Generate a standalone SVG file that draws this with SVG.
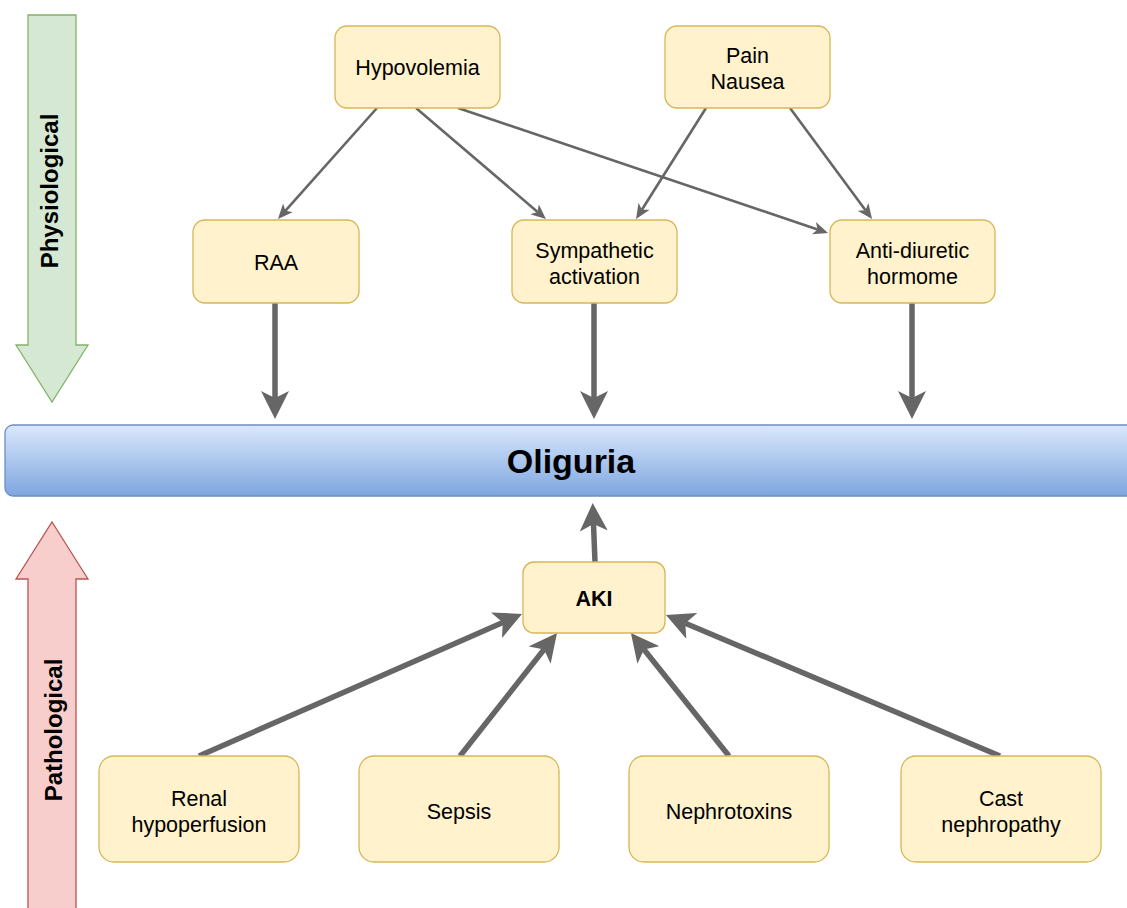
<svg xmlns="http://www.w3.org/2000/svg" width="1127" height="908" viewBox="0 0 1127 908">
  <style>
    .node rect { fill: #fff2cc; stroke: #d6b656; stroke-width: 1.3; }
    .node text { font-family: "Liberation Sans", Arial, sans-serif; font-size: 21.5px; fill: #000; text-anchor: middle; }
    .bold { font-weight: bold; }
    .thin { fill: none; stroke: #666666; stroke-width: 2.6; }
    .thick { fill: none; stroke: #666666; stroke-width: 5.5; }
    .side { font-family: "Liberation Sans", Arial, sans-serif; font-size: 24px; font-weight: bold; fill: #000; text-anchor: middle; }
  </style>
  <defs>
    <linearGradient id="blueGrad" x1="0" y1="0" x2="0" y2="1">
      <stop offset="0" stop-color="#dae8fc"/>
      <stop offset="1" stop-color="#7ea6e0"/>
    </linearGradient>
    <marker id="headThin" markerUnits="userSpaceOnUse" markerWidth="15" markerHeight="13" refX="4" refY="6.5" orient="auto" viewBox="0 0 15 13">
      <path d="M0,0 L15,6.5 L0,13 L4,6.5 Z" fill="#666666"/>
    </marker>
    <marker id="headThick" markerUnits="userSpaceOnUse" markerWidth="28" markerHeight="28" refX="7" refY="14" orient="auto" viewBox="0 0 28 28">
      <path d="M0,0 L28,14 L0,28 L7,14 Z" fill="#666666"/>
    </marker>
  </defs>

  <g id="physiological-arrow">
    <polygon points="28,15 76,15 76,345 88,345 52,402 16,345 28,345" fill="#d5e8d4" stroke="#82b366" stroke-width="1.3"/>
    <text class="side" transform="translate(58,191) rotate(-90)">Physiological</text>
  </g>
  <g id="pathological-arrow">
    <polygon points="52,522 88,579 76,579 76,915 28,915 28,579 16,579" fill="#f8cecc" stroke="#b85450" stroke-width="1.3"/>
    <text class="side" transform="translate(62,730) rotate(-90)">Pathological</text>
  </g>

  <g id="oliguria">
    <rect x="5" y="425" width="1140" height="71" rx="8" fill="url(#blueGrad)" stroke="#6c8ebf" stroke-width="1.3"/>
    <text x="571" y="473" font-family="Liberation Sans, Arial, sans-serif" font-size="34" font-weight="bold" text-anchor="middle" fill="#000">Oliguria</text>
  </g>

  <g id="connectors">
    <path class="thin" d="M377,108 L285.3,210.8" marker-end="url(#headThin)"/>
    <path class="thin" d="M416,108 L537.6,211.9" marker-end="url(#headThin)"/>
    <path class="thin" d="M458,108 L817.6,229.5" marker-end="url(#headThin)"/>
    <path class="thin" d="M706,108 L641.9,209.7" marker-end="url(#headThin)"/>
    <path class="thin" d="M790,108 L865.5,210.2" marker-end="url(#headThin)"/>
    <path class="thick" d="M275,303 L275,398" marker-end="url(#headThick)"/>
    <path class="thick" d="M594,303 L594,398" marker-end="url(#headThick)"/>
    <path class="thick" d="M912,303 L912,398" marker-end="url(#headThick)"/>
    <path class="thick" d="M595,562 L593.5,524" marker-end="url(#headThick)"/>
    <path class="thick" d="M199,756 L502.8,622.4" marker-end="url(#headThick)"/>
    <path class="thick" d="M460,756 L544,649.5" marker-end="url(#headThick)"/>
    <path class="thick" d="M729,756 L644,649.5" marker-end="url(#headThick)"/>
    <path class="thick" d="M1000,756 L685.3,623.2" marker-end="url(#headThick)"/>
  </g>

  <g id="hypovolemia" class="node">
    <rect x="335" y="26" width="165" height="82" rx="12"/>
    <text x="417.5" y="75">Hypovolemia</text>
  </g>
  <g id="pain-nausea" class="node">
    <rect x="665" y="26" width="165" height="82" rx="12"/>
    <text x="747.5" y="63">Pain</text>
    <text x="747.5" y="89">Nausea</text>
  </g>
  <g id="raa" class="node">
    <rect x="193" y="220" width="166" height="83" rx="12"/>
    <text x="276" y="270">RAA</text>
  </g>
  <g id="sympathetic" class="node">
    <rect x="512" y="220" width="165" height="83" rx="12"/>
    <text x="594.5" y="258">Sympathetic</text>
    <text x="594.5" y="284">activation</text>
  </g>
  <g id="adh" class="node">
    <rect x="830" y="220" width="165" height="83" rx="12"/>
    <text x="912.5" y="258">Anti-diuretic</text>
    <text x="912.5" y="284">hormome</text>
  </g>
  <g id="aki" class="node">
    <rect x="523" y="562" width="142" height="71" rx="11"/>
    <text class="bold" x="594" y="606">AKI</text>
  </g>
  <g id="renal" class="node">
    <rect x="99" y="756" width="200" height="106" rx="15"/>
    <text x="199" y="806">Renal</text>
    <text x="199" y="832">hypoperfusion</text>
  </g>
  <g id="sepsis" class="node">
    <rect x="359" y="756" width="200" height="106" rx="15"/>
    <text x="459" y="819">Sepsis</text>
  </g>
  <g id="nephrotoxins" class="node">
    <rect x="629" y="756" width="200" height="106" rx="15"/>
    <text x="729" y="819">Nephrotoxins</text>
  </g>
  <g id="cast" class="node">
    <rect x="901" y="756" width="200" height="106" rx="15"/>
    <text x="1001" y="806">Cast</text>
    <text x="1001" y="832">nephropathy</text>
  </g>
</svg>
